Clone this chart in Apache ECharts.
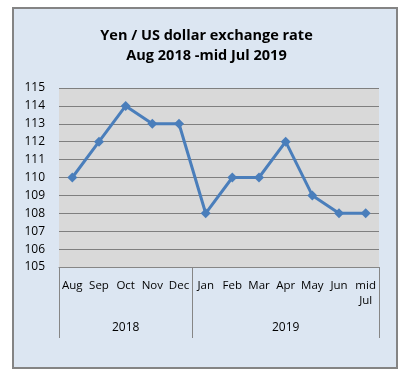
<!DOCTYPE html>
<html><head><meta charset="utf-8">
<script src="https://cdn.jsdelivr.net/npm/echarts@6/dist/echarts.min.js"></script>
<style>html,body{margin:0;padding:0;background:#fff}#c{width:413px;height:378px}</style>
</head><body><div id="c"></div>
<script>
var months = ['Aug','Sep','Oct','Nov','Dec','Jan','Feb','Mar','Apr','May','Jun','mid\nJul'];
var years = ['2018','2018','2018','2018','2018','2019','2019','2019','2019','2019','2019','2019'];
var yearLabelIdx = [2, 8];
var yearStartIdx = [0, 5];
var rates = [110,112,114,113,113,108,110,110,112,109,108,108];
var titleLines = ['Yen / US dollar exchange rate','Aug 2018 -mid Jul 2019'];

var chart = echarts.init(document.getElementById('c'), null, {renderer:'canvas'});
var font = 'Open Sans, Liberation Sans, sans-serif';
chart.setOption({
  backgroundColor: '#ffffff',
  animation: false,
  graphic: [{
    type: 'rect', shape: {x: 13, y: 8, width: 384, height: 360},
    style: {fill: '#dce6f2', stroke: '#848484', lineWidth: 2}, z: -10, silent: true
  }],
  title: {
    text: titleLines.join('\n'),
    left: 'center', top: 21,
    textStyle: {fontFamily: font, fontSize: 14.5, fontWeight: 'bold', color: '#000', lineHeight: 20}
  },
  grid: {left: 59, right: 34, top: 88, bottom: 111, show: true, backgroundColor: '#d9d9d9', borderWidth: 0},
  xAxis: [{
    type: 'category', data: months, position: 'bottom', boundaryGap: true,
    axisLine: {show: true, lineStyle: {color: '#868686', width: 1}},
    axisTick: {show: false},
    axisLabel: {interval: 0, margin: 11, fontFamily: font, fontSize: 11.5, color: '#000', lineHeight: 15}
  },{
    type: 'category', data: years, position: 'bottom', boundaryGap: true, gridIndex: 0,
    axisLine: {show: false},
    axisTick: {show: true, length: 71, lineStyle: {color: '#868686', width: 1},
      interval: function(i){ return yearStartIdx.indexOf(i) >= 0; }},
    axisLabel: {interval: function(i){ return yearLabelIdx.indexOf(i) >= 0; },
      margin: 55, fontFamily: font, fontSize: 12, color: '#000'}
  }],
  yAxis: {
    type: 'value', min: 105, max: 115, interval: 1,
    axisLine: {show: false}, axisTick: {show: false},
    axisLabel: {margin: 14, fontFamily: font, fontSize: 12, color: '#000'},
    splitLine: {show: true, lineStyle: {color: '#7f7f7f', width: 1}}
  },
  series: [{
    type: 'line', data: rates, xAxisIndex: 0,
    symbol: 'diamond', symbolSize: 10,
    lineStyle: {color: '#4a7ebb', width: 3},
    itemStyle: {color: '#4a7ebb'}
  }]
});
</script></body></html>
